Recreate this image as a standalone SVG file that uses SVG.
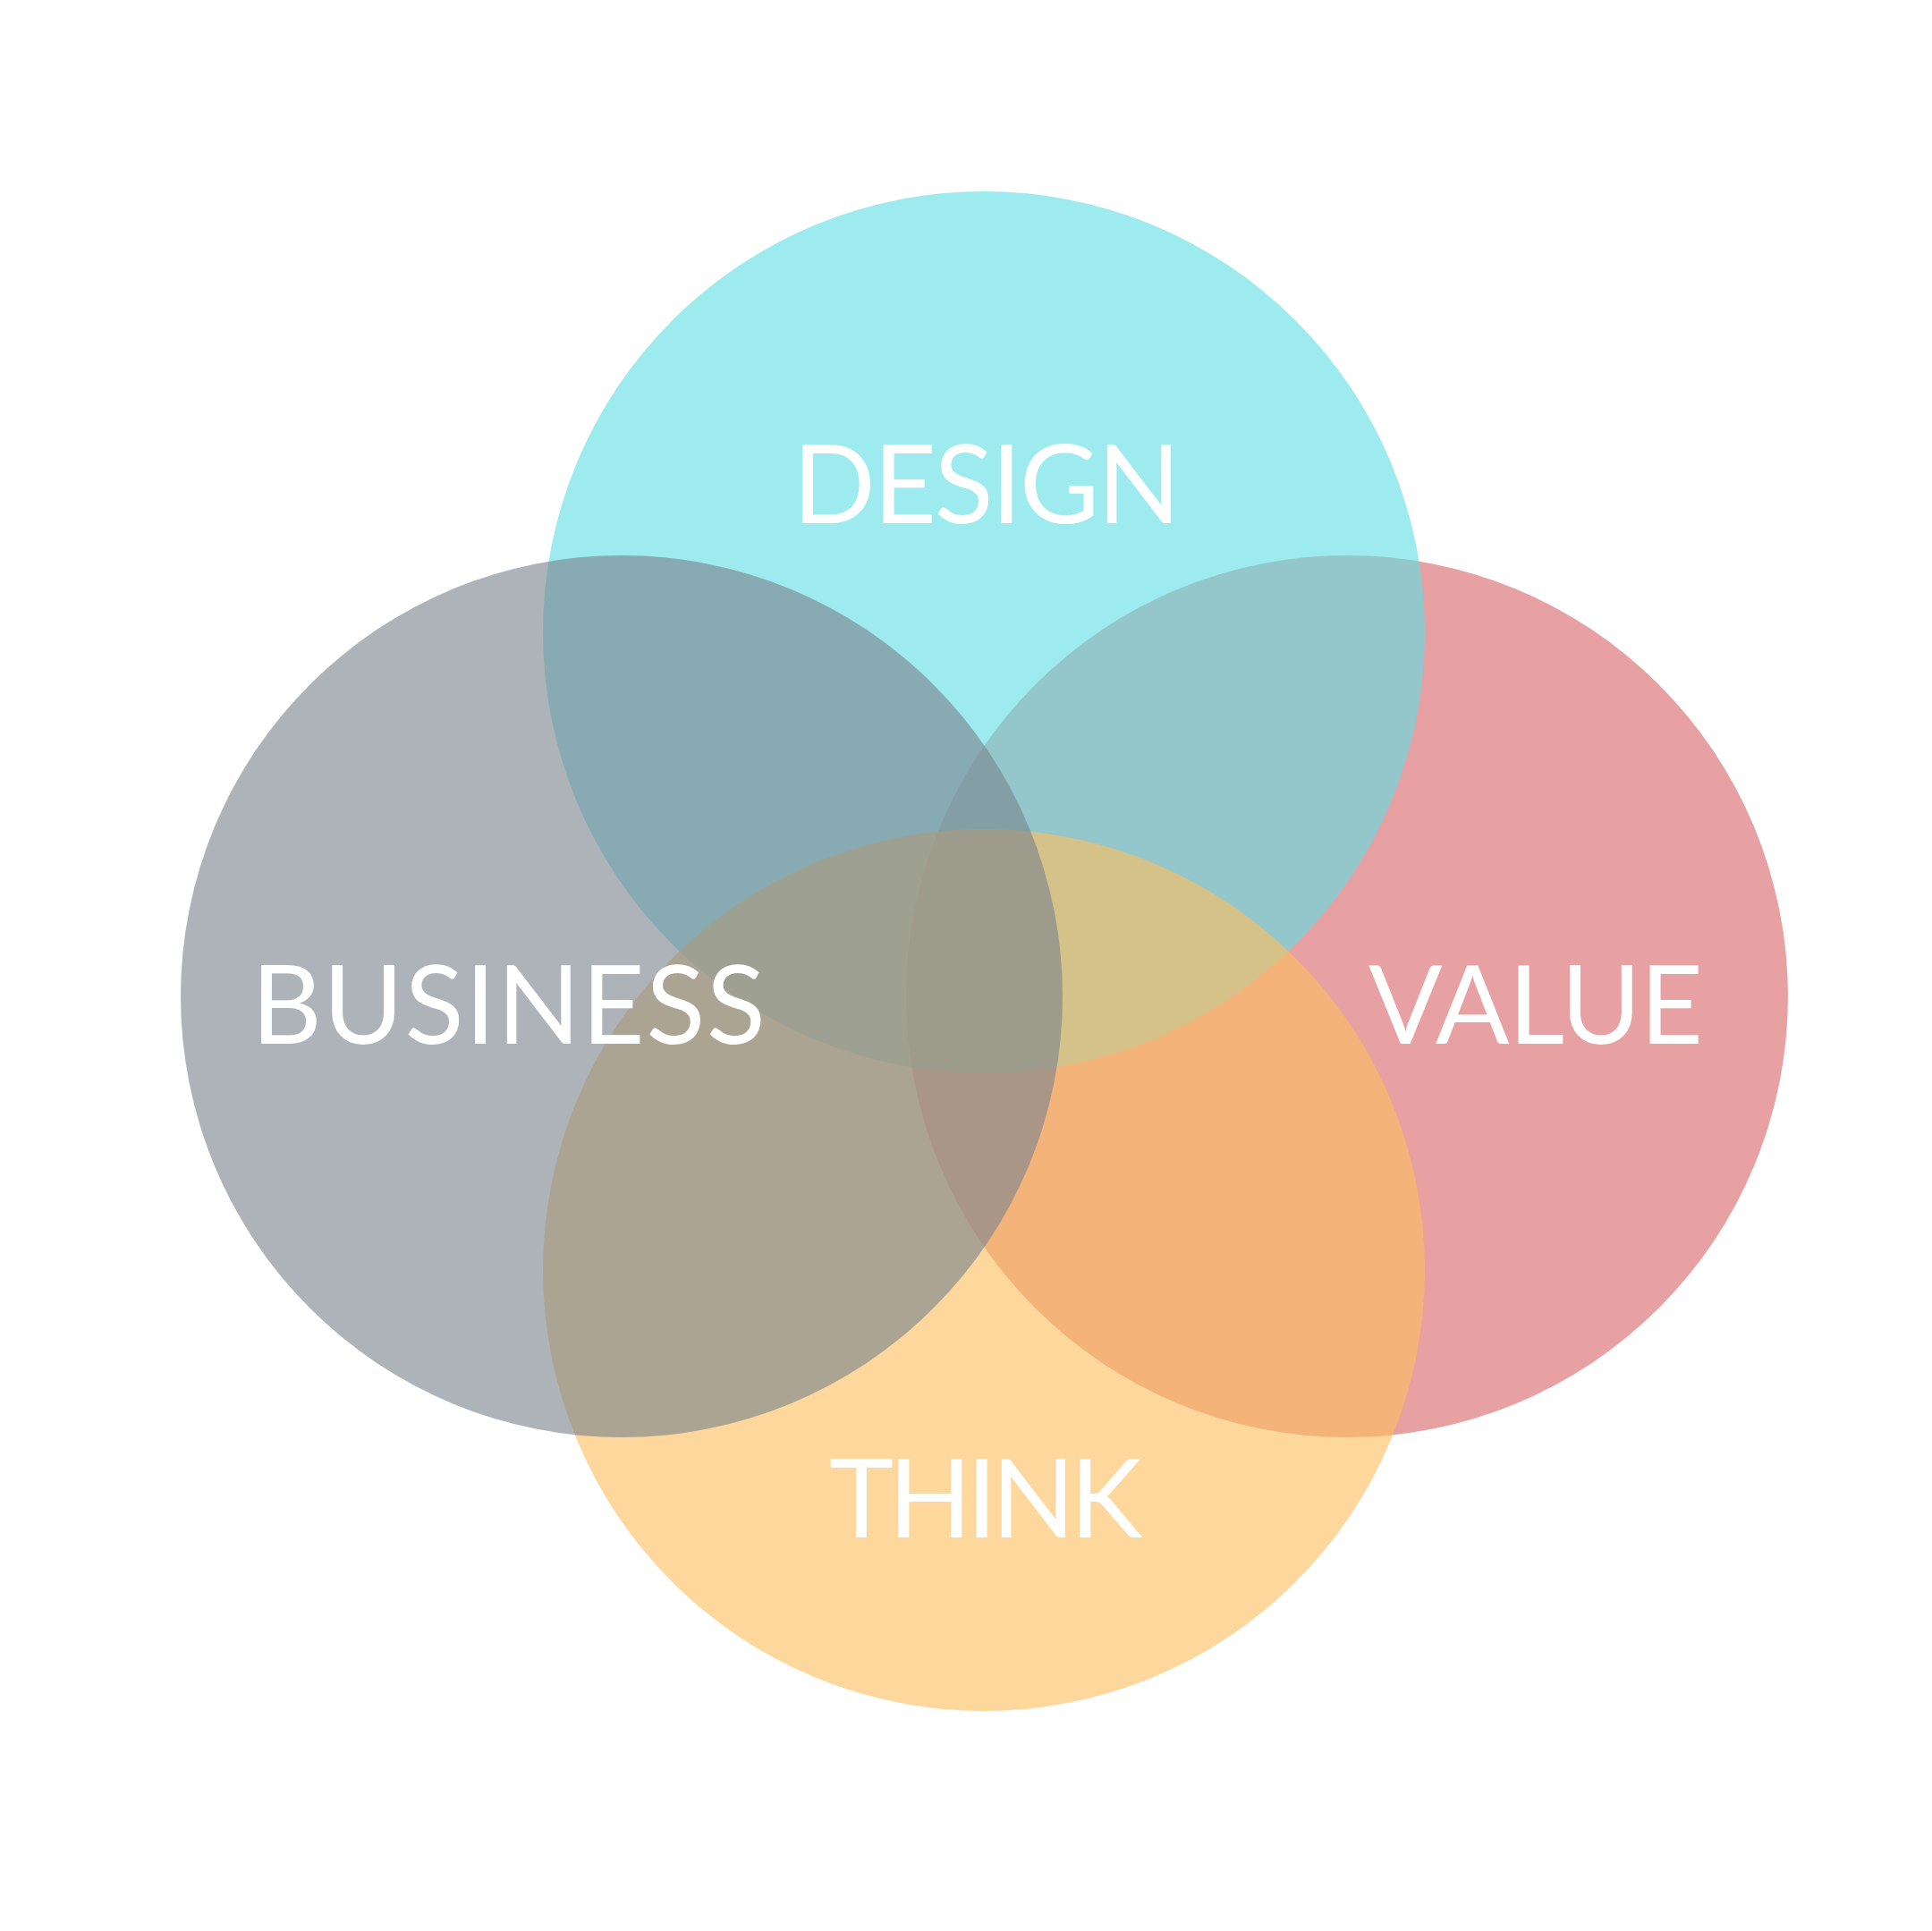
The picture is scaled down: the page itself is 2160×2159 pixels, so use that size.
<svg xmlns="http://www.w3.org/2000/svg" width="2160" height="2159" viewBox="0 0 2160 2159">
<style>
.c{opacity:0.62}
.t{font-family:Lato,"Open Sans","Liberation Sans",sans-serif;font-size:122px;fill:#ffffff}
</style>
<rect width="2160" height="2159" fill="#ffffff"/>
<g id="value"><circle class="c" cx="1506" cy="1114" r="493" fill="#da6769"/></g>
<g id="design"><circle class="c" cx="1100" cy="707" r="493" fill="#61dfe4"/></g>
<g id="think"><circle class="c" cx="1100" cy="1420" r="493" fill="#fcbe5f"/></g>
<g id="business"><circle class="c" cx="695" cy="1114" r="493" fill="#7b848e"/></g>
<g id="labels">
<text class="t" x="886" y="585" textLength="434" lengthAdjust="spacing">DESIGN</text>
<text class="t" x="281" y="1167" textLength="575" lengthAdjust="spacing">BUSINESS</text>
<text class="t" x="1530" y="1167" textLength="374" lengthAdjust="spacing">VALUE</text>
<text class="t" x="927" y="1719" textLength="350" lengthAdjust="spacing">THINK</text>
</g>
</svg>
